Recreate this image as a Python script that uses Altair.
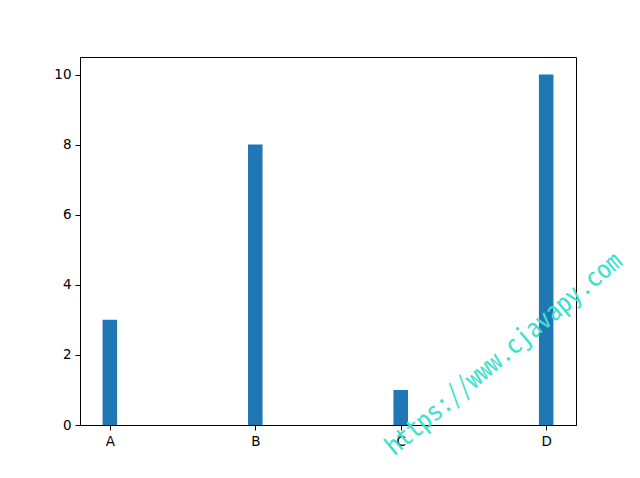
import altair as alt
import pandas as pd

categories = ["A", "B", "C", "D"]
values = [3, 8, 1, 10]
positions = [0, 1, 2, 3]
bar_width = 0.1

df = pd.DataFrame({"cat": categories, "value": values, "pos": positions})

W, H = 496, 368

base = alt.Chart(df)

bars = base.transform_calculate(
    x0=f"datum.pos - {bar_width/2}", x1=f"datum.pos + {bar_width/2}"
).mark_rect(color="#1f77b4").encode(
    x=alt.X("x0:Q", scale=alt.Scale(domain=[-0.205, 3.205], nice=False, zero=False),
            axis=alt.Axis(values=positions, labelExpr="['A','B','C','D'][datum.value]",
                          title=None, grid=False, tickSize=5, tickColor="black",
                          domainColor="black", labelColor="black", labelFontSize=13.5,
                          labelFont="DejaVu Sans", labelPadding=4, labelFlush=False)),
    x2="x1:Q",
    y=alt.Y("value:Q", scale=alt.Scale(domain=[0, 10.5], nice=False),
            axis=alt.Axis(values=[0, 2, 4, 6, 8, 10], title=None, grid=False, tickSize=5,
                          tickColor="black", domainColor="black", labelColor="black",
                          labelFontSize=13.5, labelFont="DejaVu Sans", labelPadding=4)),
    y2=alt.datum(0),
)

watermark = alt.Chart(pd.DataFrame({"t": ["https://www.cjavapy.com"]})).mark_text(
    color="#40E0D0", fontSize=26, font="Noto Sans Mono CJK SC", fontWeight=300, angle=320,
    align="center", baseline="middle", clip=False
).encode(text="t:N", x=alt.value(424), y=alt.value(297))

chart = alt.layer(bars, watermark).properties(
    width=W, height=H,
    autosize=alt.AutoSizeParams(type="none"),
    padding={"left": 72, "top": 49, "right": 56, "bottom": 45},
).configure_view(stroke="black", strokeWidth=1).configure_axis(domainWidth=1, tickWidth=1)

chart.save("out.html", embed_options={"renderer": "svg", "actions": False})
